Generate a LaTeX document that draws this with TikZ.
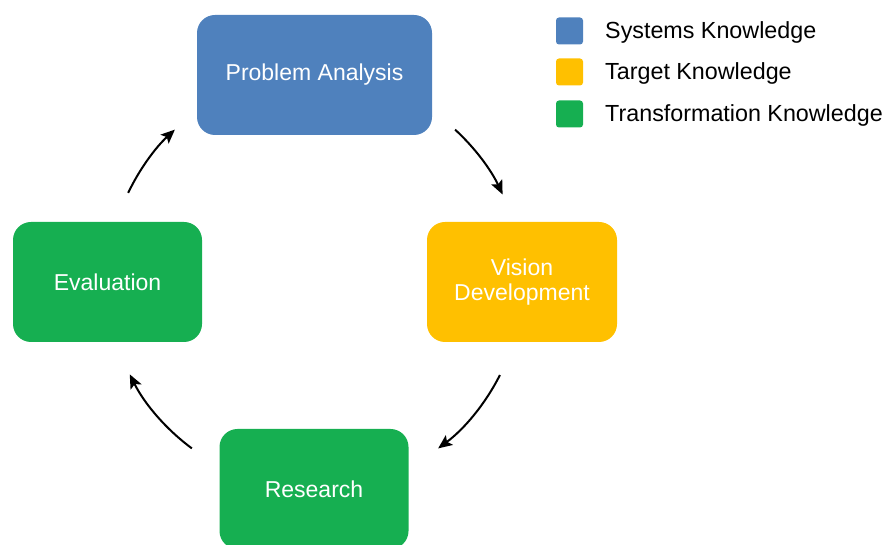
\documentclass[tikz,border=0pt]{standalone}
\usepackage{fontspec}
\setmainfont{Liberation Sans}
\usetikzlibrary{arrows.meta,calc}
\definecolor{sysblue}{HTML}{4F81BD}
\definecolor{taryel}{HTML}{FFC000}
\definecolor{trgreen}{HTML}{16AF51}
\tikzset{
  stagebox/.style={rounded corners=18pt, inner sep=0pt, text=white, align=center,
    font=\fontsize{23}{25}\selectfont, minimum height=120pt},
  legsq/.style={rounded corners=3pt, inner sep=0pt, minimum size=27pt},
  legtxt/.style={anchor=base west, inner sep=0pt, font=\fontsize{23.3}{25}\selectfont},
  cyc/.style={line width=2pt, -{Stealth[length=14pt,width=12pt,inset=3pt]}}
}
\begin{document}
\begin{tikzpicture}[x=1pt,y=1pt]
\useasboundingbox (0,0) rectangle (885,545);
% stages (y = 545 - image y)
\node[stagebox, fill=sysblue, minimum width=235pt] (pa) at (314.5,470) {Problem Analysis};
\node[stagebox, fill=taryel, minimum width=190pt] (vd) at (522,263) {Vision\\Development};
\node[stagebox, fill=trgreen, minimum width=189pt] (ev) at (107.5,263) {Evaluation};
\node[stagebox, fill=trgreen, minimum width=189pt] (rs) at (314,56) {Research};
% legend
\node[legsq, fill=sysblue] (l1) at (569.5,514) {};
\node[legsq, fill=taryel] (l2) at (569.5,473) {};
\node[legsq, fill=trgreen] (l3) at (569.5,431) {};
\node[legtxt] (t1) at (605,506) {Systems Knowledge};
\node[legtxt] (t2) at (605,465) {Target Knowledge};
\node[legtxt] (t3) at (605,423) {Transformation Knowledge};
% cycle arrows
\coordinate (C) at (315,263);
\coordinate (s1) at ($(C)+(47.4:207)$);
\coordinate (s2) at ($(C)+(-26.7:207)$);
\coordinate (s3) at ($(C)+(-126.5:207)$);
\coordinate (s4) at ($(C)+(154.5:207)$);
\draw[cyc] (s1) arc[start angle=47.4, end angle=25, radius=207];
\draw[cyc] (s2) arc[start angle=-26.7, end angle=-53.5, radius=207];
\draw[cyc] (s3) arc[start angle=-126.5, end angle=-153.5, radius=207];
\draw[cyc] (s4) arc[start angle=154.5, end angle=132.6, radius=207];
\end{tikzpicture}
\end{document}
